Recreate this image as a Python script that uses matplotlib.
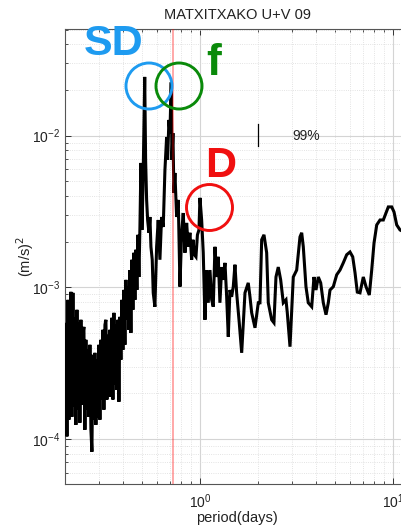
import matplotlib
matplotlib.use("Agg")
import matplotlib.pyplot as plt
from matplotlib.patches import Ellipse
from matplotlib.ticker import LogLocator, NullFormatter

plt.rcParams['font.family'] = ['Liberation Sans', 'DejaVu Sans']

# ---- data: period (days) and spectral energy ((m/s)^2) ----
period = [
    0.1998, 0.2022, 0.2047, 0.2071, 0.2096, 0.2121, 0.2146, 0.2172, 0.2198, 0.2225,
    0.2251, 0.2278, 0.2306, 0.2333, 0.2361, 0.2389, 0.2418, 0.2447, 0.2476, 0.2506,
    0.2536, 0.2566, 0.2597, 0.2628, 0.2660, 0.2692, 0.2724, 0.2757, 0.2790, 0.2823,
    0.2857, 0.2891, 0.2926, 0.2961, 0.2997, 0.3033, 0.3069, 0.3106, 0.3144, 0.3181,
    0.3220, 0.3258, 0.3298, 0.3337, 0.3377, 0.3418, 0.3459, 0.3500, 0.3542, 0.3585,
    0.3628, 0.3671, 0.3715, 0.3760, 0.3805, 0.3850, 0.3896, 0.3943, 0.3990, 0.4038,
    0.4087, 0.4136, 0.4185, 0.4236, 0.4286, 0.4338, 0.4390, 0.4443, 0.4496, 0.4550,
    0.4605, 0.4660, 0.4716, 0.4773, 0.4830, 0.4888, 0.4947, 0.5006, 0.5066, 0.5175,
    0.5231, 0.5294, 0.5358, 0.5443, 0.5508, 0.5574, 0.5661, 0.5728, 0.5844, 0.5964,
    0.6079, 0.6204, 0.6328, 0.6454, 0.6586, 0.6720, 0.6800, 0.6907, 0.6990, 0.7100,
    0.7159, 0.7245, 0.7332, 0.7420, 0.7572, 0.7721, 0.7879, 0.8038, 0.8193, 0.8362,
    0.8533, 0.8698, 0.8875, 0.9058, 0.9199, 0.9365, 0.9534, 0.9705, 0.9881, 1.0000,
    1.0205, 1.0402, 1.0615, 1.083, 1.104, 1.127, 1.150, 1.172, 1.196, 1.220,
    1.244, 1.269, 1.296, 1.320, 1.348, 1.375, 1.402, 1.430, 1.459, 1.488,
    1.518, 1.549, 1.598, 1.645, 1.711, 1.779, 1.816, 1.853, 1.928, 2.005,
    2.046, 2.088, 2.146, 2.216, 2.259, 2.352, 2.417, 2.476, 2.545, 2.619,
    2.702, 2.790, 2.834, 2.927, 3.044, 3.170, 3.297, 3.365, 3.430, 3.541,
    3.640, 3.792, 3.896, 3.990, 4.102, 4.221, 4.354, 4.497, 4.622, 4.716,
    4.906, 5.109, 5.313, 5.526, 5.755, 5.987, 6.183, 6.355, 6.531, 6.745,
    7.016, 7.246, 7.537, 7.756, 7.973, 8.234, 8.564, 8.907, 9.199, 9.454,
    9.846, 10.12, 10.45, 10.87, 11.09, 11.40,
]
energy = [
    1.10e-4, 5.83e-4, 1.04e-4, 8.27e-4, 1.34e-4, 5.25e-4, 9.34e-4, 1.40e-4, 9.20e-4, 1.63e-4,
    6.30e-4, 1.24e-4, 7.11e-4, 1.56e-4, 5.83e-4, 1.28e-4, 6.11e-4, 1.68e-4, 4.86e-4, 5.49e-4,
    1.15e-4, 4.51e-4, 1.56e-4, 3.87e-4, 1.40e-4, 4.18e-4, 1.15e-4, 8.24e-5, 3.59e-4, 1.34e-4,
    3.70e-4, 1.24e-4, 3.33e-4, 1.38e-4, 4.18e-4, 1.34e-4, 4.51e-4, 1.82e-4, 5.25e-4, 1.56e-4,
    5.66e-4, 6.11e-4, 1.82e-4, 4.86e-4, 1.90e-4, 5.25e-4, 1.90e-4, 6.30e-4, 1.82e-4, 6.79e-4,
    2.28e-4, 5.66e-4, 2.11e-4, 6.11e-4, 1.76e-4, 6.39e-4, 3.33e-4, 8.27e-4, 3.87e-4, 9.62e-4,
    4.18e-4, 1.12e-3, 6.11e-4, 1.01e-3, 5.25e-4, 1.30e-3, 5.01e-4, 1.52e-3, 7.11e-4, 1.69e-3,
    8.27e-4, 1.77e-3, 9.62e-4, 2.22e-3, 1.17e-3, 2.50e-3, 6.61e-3, 2.39e-3, 4.39e-3, 2.44e-2,
    6.92e-3, 3.77e-3, 2.78e-3, 2.29e-3, 2.91e-3, 1.85e-3, 1.52e-3, 9.20e-4, 7.44e-4, 1.85e-3,
    2.78e-3, 1.52e-3, 2.91e-3, 2.50e-3, 5.94e-3, 9.80e-3, 6.92e-3, 1.27e-2, 1.04e-2, 2.25e-2,
    6.92e-3, 1.04e-2, 4.19e-3, 5.68e-3, 2.91e-3, 3.77e-3, 1.01e-3, 2.29e-3, 3.09e-3, 1.69e-3,
    2.66e-3, 1.85e-3, 2.29e-3, 1.52e-3, 2.06e-3, 1.64e-3, 1.59e-3, 2.22e-3, 2.39e-3, 3.89e-3,
    2.78e-3, 1.69e-3, 6.11e-4, 1.30e-3, 7.91e-4, 1.30e-3, 8.28e-4, 7.45e-4, 1.85e-3, 1.17e-3,
    1.59e-3, 7.91e-4, 1.36e-3, 1.12e-3, 1.45e-3, 8.66e-4, 4.72e-4, 9.60e-4, 8.66e-4, 1.01e-3,
    1.41e-3, 9.20e-4, 5.84e-4, 3.70e-4, 9.20e-4, 1.07e-3, 8.66e-4, 6.80e-4, 5.41e-4, 7.91e-4,
    7.91e-4, 2.06e-3, 2.22e-3, 1.69e-3, 7.91e-4, 6.11e-4, 5.84e-4, 1.17e-3, 1.36e-3, 1.12e-3,
    7.91e-4, 8.28e-4, 6.80e-4, 4.06e-4, 1.17e-3, 1.30e-3, 2.15e-3, 2.29e-3, 1.85e-3, 1.01e-3,
    7.91e-4, 7.45e-4, 1.17e-3, 9.60e-4, 1.17e-3, 1.07e-3, 7.91e-4, 6.60e-4, 7.91e-4, 9.60e-4,
    1.01e-3, 1.21e-3, 1.30e-3, 1.45e-3, 1.64e-3, 1.71e-3, 1.59e-3, 1.25e-3, 9.30e-4, 9.20e-4,
    1.17e-3, 1.01e-3, 8.90e-4, 1.30e-3, 1.96e-3, 2.58e-3, 2.78e-3, 2.78e-3, 3.09e-3, 3.39e-3,
    3.39e-3, 3.14e-3, 2.58e-3, 2.39e-3, 2.36e-3, 2.30e-3,
]

inertial_period = 0.722          # days (f)
conf_period = 2.0                # position of the 99% bar
conf_low, conf_high = 8.5e-3, 1.19e-2
conf_text = "99%"

title = "MATXITXAKO U+V 09"
xlabel = "period(days)"
ylabel = "(m/s)$^{2}$"

W, H = 402, 528
fig = plt.figure(figsize=(W / 100, H / 100), dpi=100)
ax = fig.add_axes([65 / W, 44 / H, 344 / W, 455 / H])

ax.set_xscale('log')
ax.set_yscale('log')
ax.set_xlim(0.2, 12.1)
ax.set_ylim(5.05e-5, 5.05e-2)

ax.grid(True, which='major', color='#d4d4d4', lw=0.8, ls='-')
ax.grid(True, which='minor', color='#dadada', lw=0.6, ls=':')
ax.set_axisbelow(True)

ax.plot(period, energy, color='black', lw=2.2, solid_joinstyle='miter', zorder=3)
ax.axvline(inertial_period, color='red', alpha=0.4, lw=1.2, zorder=4)
ax.plot([conf_period, conf_period], [conf_low, conf_high], color='black', lw=0.9, zorder=4)
ax.text(3.0, 1.0e-2, conf_text, fontsize=10, ha='left', va='center', color='#222222')

ax.xaxis.set_major_locator(LogLocator(base=10))
ax.xaxis.set_minor_locator(LogLocator(base=10, subs=range(2, 10)))
ax.yaxis.set_major_locator(LogLocator(base=10))
ax.yaxis.set_minor_locator(LogLocator(base=10, subs=range(2, 10)))
ax.xaxis.set_minor_formatter(NullFormatter())
ax.yaxis.set_minor_formatter(NullFormatter())
ax.tick_params(which='both', direction='in', top=True, right=True,
               colors='#333333', labelcolor='#222222', labelsize=10)
ax.tick_params(which='major', length=4, width=0.7)
ax.tick_params(which='minor', length=2.5, width=0.6)
ax.tick_params(axis='x', which='major', pad=6)
for s in ax.spines.values():
    s.set_color('#555555')
    s.set_linewidth(0.8)

ax.set_title(title, fontsize=10.5, color='#222222', pad=7)
ax.set_xlabel(xlabel, fontsize=10.5, color='#222222', labelpad=0)
ax.set_ylabel(ylabel, fontsize=10.5, color='#222222', labelpad=-3)

# annotation circles and labels (figure pixel positions)
def fx(x):
    return x / W

def fy(y):
    return 1 - y / H

circles = [((149, 86), '#1E9BF0'), ((179, 86), '#0A8A0A'), ((209.5, 207.5), '#F01010')]
for (cx, cy), col in circles:
    fig.patches.append(Ellipse((fx(cx), fy(cy)), 46 / W, 46 / H, transform=fig.transFigure,
                               fill=False, edgecolor=col, lw=2.1, zorder=10))

fig.text(fx(114), fy(55), "SD", color='#1E9BF0', fontsize=31, fontweight='bold',
         ha='center', va='baseline')
fig.text(fx(213.5), fy(75), "f", color='#0A8A0A', fontsize=32, fontweight='bold',
         ha='center', va='baseline')
fig.text(fx(221), fy(177), "D", color='#F01010', fontsize=31, fontweight='bold',
         ha='center', va='baseline')

fig.savefig('out.png', dpi=100)
